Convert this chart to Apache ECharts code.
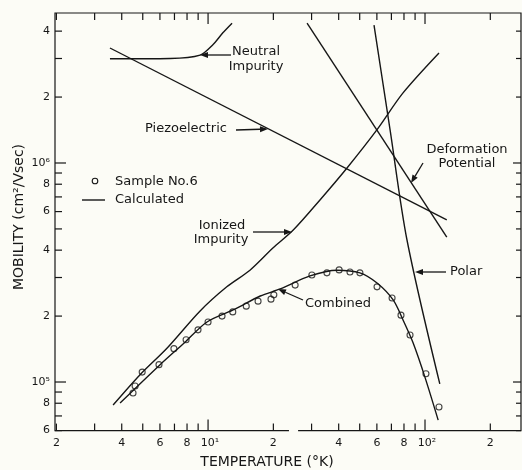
<!DOCTYPE html>
<html><head><meta charset="utf-8">
<script src="https://cdn.jsdelivr.net/npm/echarts@6/dist/echarts.min.js"></script>
<style>html,body{margin:0;padding:0;background:#fcfcf6}#c{width:522px;height:470px}</style>
</head><body><div id="c"></div>
<script>
// ---- data (temperature °K, mobility cm²/Vsec) ----
const neutralImpurity = [[3.53,2.99e6],[6.68,3.00e6],[9.19,3.11e6],[10.5,3.46e6],[11.7,3.93e6],[12.9,4.35e6]];
const piezoelectric = [[3.53,3.35e6],[126,5.50e5]];
const deformationPotential = [[28.6,4.35e6],[126,4.59e5]];
const polar = [[58.2,4.26e6],[69.0,1.42e6],[82.6,4.45e5],[117,9.8e4]];
const ionizedImpurity = [[3.65,7.85e4],[4.86,1.08e5],[6.48,1.43e5],[9.19,2.11e5],[12.2,2.72e5],[15.6,3.24e5],[19.9,4.09e5],[24.7,4.94e5],[32.8,6.78e5],[43.7,9.49e5],[60.1,1.42e6],[79.2,2.09e6],[116,3.18e6]];
const combined = [[3.93,8.02e4],[6.01,1.20e5],[7.83,1.52e5],[9.89,1.88e5],[13.3,2.15e5],[17.4,2.47e5],[21.5,2.66e5],[29.5,3.05e5],[39.3,3.24e5],[50.1,3.15e5],[60.1,2.83e5],[71.3,2.37e5],[79.2,1.92e5],[88.1,1.51e5],[100,1.05e5],[115,6.70e4]];
const sampleNo6 = [[4.51,8.91e4],[4.61,9.59e4],[4.97,1.11e5],[5.94,1.20e5],[6.96,1.42e5],[7.92,1.56e5],[8.99,1.73e5],[10.0,1.88e5],[11.6,2.00e5],[13.0,2.09e5],[15.0,2.22e5],[17.0,2.34e5],[19.5,2.39e5],[20.1,2.50e5],[25.2,2.77e5],[30.1,3.08e5],[35.3,3.15e5],[40.2,3.25e5],[45.1,3.18e5],[50.1,3.15e5],[60.1,2.72e5],[70.5,2.42e5],[77.5,2.02e5],[85.3,1.64e5],[101,1.09e5],[116,7.69e4]];
// ---- axes ----
const xTicks = [2,3,4,5,6,7,8,9,10,20,30,40,50,60,70,80,90,100,200];
const xMajorTicks = [10,100];
const xTickLabels = [[2,'2'],[4,'4'],[6,'6'],[8,'8'],[10,'10¹'],[20,'2'],[40,'4'],[60,'6'],[80,'8'],[100,'10²'],[200,'2']];
const yTicks = [6e4,7e4,8e4,9e4,1e5,2e5,3e5,4e5,5e5,6e5,7e5,8e5,9e5,1e6,2e6,3e6,4e6];
const yMajorTicks = [1e5,1e6];
const yTickLabels = [[6e4,'6'],[8e4,'8'],[1e5,'10⁵'],[2e5,'2'],[4e5,'4'],[6e5,'6'],[8e5,'8'],[1e6,'10⁶'],[2e6,'2'],[4e6,'4']];
const xAxisBreak = [23.6,26];
const xRange = [1.97,277];
const yRange = [6e4,4.84e6];

const FONT = "'DejaVu Sans', sans-serif";
const INK = '#161616';
const BG = '#fcfcf6';

function txt(s, x, y, size, align, valign, extra) {
  return Object.assign({type:'text', x:x, y:y, silent:true, style:{text:s, font:size+'px '+FONT, fill:INK,
    align:align, verticalAlign:valign, textAlign:align, textVerticalAlign:valign}}, extra||{});
}
function arrow(x1,y1,x2,y2){
  const dx=x2-x1, dy=y2-y1, L=Math.sqrt(dx*dx+dy*dy), ux=dx/L, uy=dy/L;
  const hl=8, hw=3;
  const bx=x2-ux*hl, by=y2-uy*hl;
  return [
    {type:'line', silent:true, shape:{x1:x1,y1:y1,x2:bx,y2:by}, style:{stroke:INK, lineWidth:1.3}},
    {type:'polygon', silent:true, shape:{points:[[x2,y2],[bx-uy*hw,by+ux*hw],[bx+uy*hw,by-ux*hw]]}, style:{fill:INK}}
  ];
}

function renderAxes(params, api){
  const cs = params.coordSys;
  const left=cs.x, top=cs.y, right=cs.x+cs.width, bottom=cs.y+cs.height;
  const st = {stroke:INK, lineWidth:1.2};
  const ch = [];
  const b0 = api.coord([xAxisBreak[0], yRange[0]])[0], b1 = api.coord([xAxisBreak[1], yRange[0]])[0];
  ch.push({type:'rect', shape:{x:b0, y:bottom-2, width:b1-b0, height:4}, style:{fill:BG}});
  xTicks.forEach(t=>{
    const px = api.coord([t, yRange[0]])[0];
    const len = xMajorTicks.includes(t) ? 11 : 7;
    ch.push({type:'line', shape:{x1:px,y1:bottom,x2:px,y2:bottom-len}, style:st});
    ch.push({type:'line', shape:{x1:px,y1:top,x2:px,y2:top+len}, style:st});
  });
  yTicks.forEach(v=>{
    const py = api.coord([xRange[0], v])[1];
    const major = yMajorTicks.includes(v);
    ch.push({type:'line', shape:{x1:left,y1:py,x2:left+(major?11:7),y2:py}, style:st});
    ch.push({type:'line', shape:{x1:right,y1:py,x2:right-(major?8:5),y2:py}, style:st});
  });
  xTickLabels.forEach(([t,s])=>{
    const px = api.coord([t, yRange[0]])[0];
    ch.push(txt(s, px+(s.length>1?2:0), bottom+13, 11, 'center', 'middle'));
  });
  yTickLabels.forEach(([v,s])=>{
    const py = api.coord([xRange[0], v])[1];
    ch.push(txt(s, left-5, py, 11, 'right', 'middle'));
  });
  return {type:'group', children:ch};
}

const lineStyle = {color:INK, width:1.4};
function curve(name, data, smooth){
  return {type:'line', name:name, data:data, showSymbol:false, symbol:'none', smooth:smooth,
    lineStyle:lineStyle, itemStyle:{color:INK}, silent:true, z:3};
}

const annotations = [].concat(
  [txt('Neutral',256,52,13,'center','middle'), txt('Impurity',256,67,13,'center','middle')],
  arrow(231,55,200,55),
  [txt('Piezoelectric',145,129,13,'left','middle')],
  arrow(236,130,268,129),
  [txt('Deformation',467,150,13,'center','middle'), txt('Potential',467,164,13,'center','middle')],
  arrow(423,163,411,183),
  [txt('Ionized',222,226,13,'center','middle'), txt('Impurity',221,240,13,'center','middle')],
  arrow(253,232,292,232),
  [txt('Polar',450,272,13,'left','middle')],
  arrow(446,272,415,272),
  [txt('Combined',305,304,13,'left','middle')],
  arrow(303,300,278,289),
  // legend
  [{type:'circle', silent:true, shape:{cx:95, cy:181, r:2.8}, style:{fill:'none', stroke:INK, lineWidth:1.1}},
   txt('Sample No.6',115,182,13,'left','middle'),
   {type:'line', silent:true, shape:{x1:82,y1:200,x2:105,y2:200}, style:{stroke:INK, lineWidth:1.4}},
   txt('Calculated',115,200,13,'left','middle')],
  [txt('TEMPERATURE (°K)',267,462,14,'center','middle')],
  [txt('MOBILITY (cm²/Vsec)',19,217,14,'center','middle',{rotation:Math.PI/2})]
);

const chart = echarts.init(document.getElementById('c'), null, {renderer:'canvas'});
chart.setOption({
  animation:false,
  backgroundColor:BG,
  grid:{left:55, right:1, top:13, bottom:39.4, show:true, borderColor:INK, borderWidth:1.2, backgroundColor:'transparent'},
  xAxis:{type:'log', min:xRange[0], max:xRange[1], axisLine:{show:false}, axisTick:{show:false}, axisLabel:{show:false}, splitLine:{show:false}},
  yAxis:{type:'log', min:yRange[0], max:yRange[1], axisLine:{show:false}, axisTick:{show:false}, axisLabel:{show:false}, splitLine:{show:false}},
  graphic:{elements:annotations},
  series:[
    {type:'scatter', name:'Sample No.6', data:sampleNo6, symbol:'circle', symbolSize:6,
     itemStyle:{color:'rgba(0,0,0,0)', borderColor:INK, borderWidth:1.1}, silent:true, z:4},
    curve('Neutral Impurity', neutralImpurity, 0.3),
    curve('Piezoelectric', piezoelectric, false),
    curve('Deformation Potential', deformationPotential, false),
    curve('Polar', polar, 0.3),
    curve('Ionized Impurity', ionizedImpurity, 0.3),
    curve('Combined', combined, 0.3),
    {type:'custom', name:'axes', data:[[10,1e5]], renderItem:renderAxes, silent:true, clip:false, z:5}
  ]
});
</script></body></html>
